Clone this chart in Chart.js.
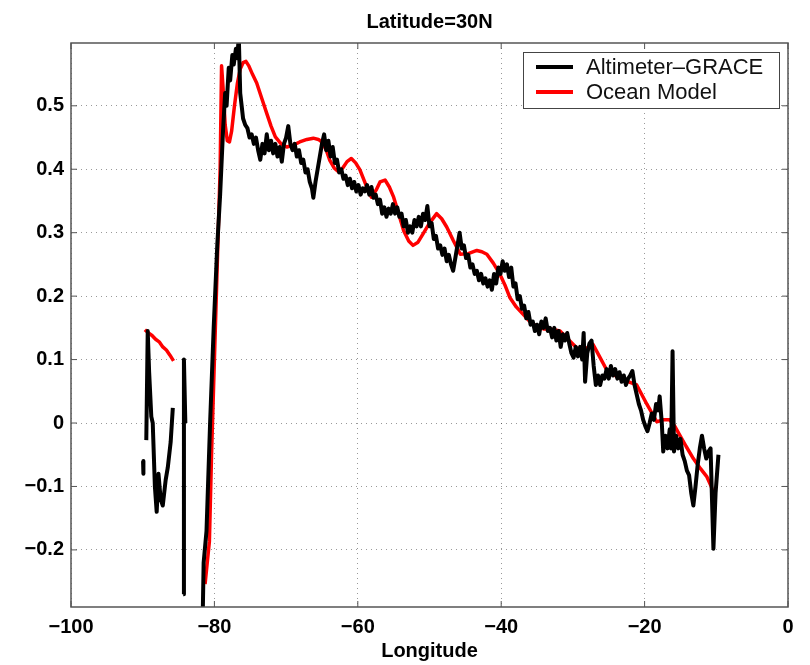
<!DOCTYPE html>
<html><head><meta charset="utf-8">
<script src="https://cdn.jsdelivr.net/npm/chart.js@4"></script>
<style>html,body{margin:0;padding:0;background:#fff}#wrap{width:810px;height:665px}</style>
</head><body><div id="wrap"><canvas id="c" width="810" height="665"></canvas></div>
<script>
const chartTitle = "Latitude=30N";
const xTitle = "Longitude";
const seriesNames = ["Altimeter–GRACE", "Ocean Model"];
const xTicks = [-100, -80, -60, -40, -20, 0];
const yTicks = [-0.2, -0.1, 0, 0.1, 0.2, 0.3, 0.4, 0.5];

const altLon = [-89.95,-89.9,-89.7,
-89.5,-89.3,-89.1,-88.8,-88.6,-88.3,-88.05,-87.8,-87.5,-87.2,-86.8,-86.5,-86.1,-85.8,-85.0,
-84.35,-84.25,-84.05,-83.0,
-81.7,-81.5,-81.1,-80.6,-80.1,-79.6,-79.2,-78.8,-78.5,-78.3,-78.0,-77.8,-77.5,-77.3,-77.0,-76.8,-76.6,-76.4,-76.2,-76.0,
-75.7,-75.4,-75.1,-74.8,-74.5,-74.2,-73.9,-73.6,-73.3,-73.0,-72.7,-72.4,-72.1,-71.8,-71.5,-71.2,-70.9,-70.6,-70.3,-70.0,
-69.7,-69.4,-69.1,-68.8,-68.5,-68.2,-67.9,-67.6,-67.3,-67.0,-66.7,-66.4,-66.2,-65.9,-65.6,-65.3,-65.0,-64.7,-64.4,-64.1,
-63.8,-63.5,-63.2,-62.9,-62.6,-62.3,-62.0,-61.7,-61.4,-61.1,-60.8,-60.5,-60.2,-59.9,-59.6,-59.3,-59.0,-58.7,-58.4,-58.1,
-57.8,-57.5,-57.2,-56.9,-56.6,-56.3,-56.0,-55.7,-55.4,-55.1,-54.8,-54.5,-54.2,-53.9,-53.6,-53.3,-53.0,-52.7,-52.4,-52.1,
-51.8,-51.5,-51.2,-50.9,-50.6,-50.3,-50.0,-49.7,-49.4,-49.1,-48.8,-48.5,-48.2,-47.9,-47.6,-47.3,-47.0,-46.7,-46.4,-46.1,
-45.8,-45.5,-45.2,-44.9,-44.6,-44.3,-44.0,-43.7,-43.4,-43.1,-42.8,-42.5,-42.2,-41.9,-41.6,-41.3,-41.0,-40.7,-40.4,-40.1,
-39.8,-39.5,-39.2,-38.9,-38.6,-38.3,-38.0,-37.7,-37.4,-37.1,-36.8,-36.5,-36.2,-35.9,-35.6,-35.3,-35.0,-34.7,-34.4,-34.1,
-33.8,-33.5,-33.2,-32.9,-32.6,-32.3,-32.0,-31.7,-31.4,-31.1,-30.8,-30.5,-30.2,-29.9,-29.6,-29.3,-29.0,-28.7,-28.5,-28.3,
-28.0,-27.7,-27.4,-27.1,-26.8,-26.5,-26.2,-25.9,-25.6,-25.3,-25.0,-24.7,-24.4,-24.1,-23.8,-23.5,-23.2,-22.9,-22.6,-22.3,
-22.0,-21.7,-21.4,-21.1,-20.8,-20.5,-20.2,-19.9,-19.6,-19.3,-19.0,-18.7,-18.4,-18.1,-17.9,-17.6,-17.4,-17.1,-16.8,-16.5,
-16.3,-16.1,-15.9,-15.6,-15.3,-15.0,-14.7,-14.4,-14.1,-13.8,-13.5,-13.2,-12.9,-12.6,-12.3,-12.0,-11.7,-11.4,-11.1,-10.8,
-10.6,-10.4,-10.1,-9.7];
const altVal = [-0.06,-0.08,null,
-0.027,0.145,0.08,0.01,0.0,-0.1,-0.14,-0.08,-0.12,-0.13,-0.09,-0.07,-0.03,0.024,null,
-0.27,0.10,0.0,null,
-0.35,-0.22,-0.17,0.0,0.15,0.28,0.36,0.46,0.52,0.50,0.56,0.54,0.58,0.565,0.59,0.575,0.61,0.52,0.50,0.48,
0.47,0.465,0.45,0.455,0.44,0.45,0.43,0.415,0.44,0.425,0.455,0.43,0.445,0.425,0.44,0.42,0.435,0.412,0.44,0.45,
0.468,0.44,0.43,0.44,0.42,0.43,0.41,0.415,0.395,0.40,0.38,0.37,0.355,0.38,0.40,0.42,0.44,0.455,0.43,0.445,
0.42,0.435,0.41,0.415,0.395,0.40,0.385,0.39,0.375,0.385,0.37,0.38,0.365,0.375,0.36,0.37,0.365,0.375,0.36,0.372,
0.355,0.36,0.345,0.352,0.33,0.34,0.325,0.338,0.33,0.345,0.33,0.34,0.325,0.33,0.31,0.32,0.30,0.31,0.30,0.32,
0.31,0.325,0.31,0.33,0.32,0.342,0.31,0.315,0.29,0.295,0.275,0.28,0.265,0.275,0.255,0.265,0.25,0.24,0.26,0.28,
0.30,0.275,0.28,0.26,0.265,0.245,0.25,0.235,0.24,0.225,0.235,0.22,0.228,0.215,0.225,0.21,0.235,0.22,0.245,0.235,
0.255,0.24,0.25,0.23,0.245,0.215,0.22,0.195,0.2,0.18,0.185,0.165,0.175,0.155,0.16,0.145,0.155,0.14,0.16,0.15,
0.165,0.145,0.15,0.135,0.15,0.13,0.145,0.12,0.14,0.13,0.142,0.125,0.11,0.103,0.12,0.105,0.12,0.10,0.142,0.065,
0.11,0.125,0.13,0.09,0.06,0.075,0.06,0.075,0.07,0.085,0.07,0.09,0.075,0.085,0.07,0.08,0.065,0.075,0.06,0.07,
0.075,0.082,0.06,0.045,0.03,0.02,0.005,-0.005,-0.013,0.0,0.015,0.005,0.03,0.02,0.042,0.0,-0.045,-0.02,-0.04,-0.01,
-0.04,0.113,-0.045,-0.02,-0.04,-0.025,-0.05,-0.06,-0.075,-0.082,-0.11,-0.13,-0.1,-0.066,-0.04,-0.02,-0.04,-0.056,-0.045,-0.04,
-0.12,-0.198,-0.11,-0.05];

const modelLon = [-89.7,-89.2,-88.7,-88.2,-87.7,-87.2,-86.7,-86.2,-85.7,-83.5,
-81.3,-80.7,-80.4,-80.0,-79.6,-79.2,-79.0,-78.8,-78.5,-78.2,-77.9,-77.6,-77.2,-76.8,-76.4,-76.0,-75.6,-75.2,-74.7,-74.1,
-73.4,-72.7,-72.1,-71.5,-70.7,-69.9,-69.0,-68.1,-67.1,-66.2,-65.5,-65.0,-64.4,-63.9,-63.3,-62.7,-62.1,-61.5,-60.9,-60.3,
-59.7,-58.9,-58.1,-57.4,-56.9,-56.2,-55.6,-55.0,-54.3,-53.6,-52.9,-52.3,-51.6,-50.9,-50.0,-49.0,-48.3,-47.6,-46.7,-45.7,
-44.6,-43.4,-42.7,-42.0,-41.1,-40.2,-39.5,-38.8,-37.9,-37.0,-36.0,-35.0,-34.0,-33.0,-31.8,-30.5,-29.0,-28.1,-27.2,-26.3,
-25.3,-24.0,-22.5,-21.1,-19.7,-18.3,-17.4,-16.5,-15.8,-15.1,-14.2,-13.2,-12.2,-11.3,-10.7,-10.2];
const modelVal = [0.147,0.142,0.138,0.132,0.128,0.12,0.115,0.107,0.098,null,
-0.254,-0.187,-0.05,0.10,0.25,0.40,0.563,0.53,0.47,0.445,0.443,0.46,0.50,0.535,0.558,0.568,0.570,0.563,0.55,0.536,
0.512,0.488,0.468,0.451,0.44,0.435,0.438,0.443,0.447,0.449,0.447,0.443,0.43,0.414,0.402,0.396,0.402,0.412,0.417,0.41,
0.399,0.376,0.356,0.368,0.380,0.383,0.372,0.356,0.33,0.303,0.287,0.280,0.285,0.298,0.315,0.330,0.322,0.309,0.288,0.266,
0.267,0.272,0.27,0.266,0.252,0.235,0.218,0.198,0.183,0.172,0.16,0.152,0.148,0.148,0.145,0.13,0.113,0.118,0.124,0.105,
0.084,0.074,0.066,0.060,0.03,0.002,0.005,0.005,-0.005,-0.019,-0.037,-0.056,-0.072,-0.085,-0.1,-0.122];

const toPts = (xs, ys) => xs.map((x, i) => ({x: x, y: ys[i]}));
const FONT = "'Liberation Sans', Arial, Helvetica, sans-serif";
const fmt = v => { const s = (Math.round(v * 10) / 10).toString(); return s.startsWith('-') ? '\u2212' + s.slice(1) : s; };

const framePlugin = {
  id: 'frame',
  afterDraw(chart) {
    const ctx = chart.ctx, a = chart.chartArea;
    const xs = chart.scales.x, ys = chart.scales.y;
    ctx.save();
    ctx.strokeStyle = '#555'; ctx.lineWidth = 1.5; ctx.setLineDash([]);
    ctx.strokeRect(a.left, a.top, a.right - a.left, a.bottom - a.top);
    ctx.lineWidth = 1;
    const tl = 6;
    xTicks.forEach(v => { const p = xs.getPixelForValue(v);
      ctx.beginPath(); ctx.moveTo(p, a.bottom); ctx.lineTo(p, a.bottom - tl);
      ctx.moveTo(p, a.top); ctx.lineTo(p, a.top + tl); ctx.stroke(); });
    yTicks.forEach(v => { const p = ys.getPixelForValue(v);
      ctx.beginPath(); ctx.moveTo(a.left, p); ctx.lineTo(a.left + tl, p);
      ctx.moveTo(a.right, p); ctx.lineTo(a.right - tl, p); ctx.stroke(); });
    ctx.fillStyle = '#000'; ctx.font = 'bold 20px ' + FONT;
    ctx.textAlign = 'center'; ctx.textBaseline = 'middle';
    ctx.fillText(chartTitle, (a.left + a.right) / 2, 22);
    const lx = 523, ly = 52, lw = 256, lh = 56;
    ctx.fillStyle = '#fff'; ctx.fillRect(lx, ly, lw, lh);
    ctx.strokeStyle = '#444'; ctx.lineWidth = 1; ctx.strokeRect(lx + 0.5, ly + 0.5, lw, lh);
    const colors = ['#000000', '#ff0000'];
    const rows = [67, 92];
    ctx.font = '22px ' + FONT; ctx.textAlign = 'left';
    seriesNames.forEach((n, i) => {
      ctx.strokeStyle = colors[i]; ctx.lineWidth = 4;
      ctx.beginPath(); ctx.moveTo(536, rows[i]); ctx.lineTo(573, rows[i]); ctx.stroke();
      ctx.fillStyle = '#111'; ctx.fillText(n, 586, rows[i] + 1);
    });
    ctx.restore();
  }
};

const gridOpts = { drawTicks: false, color: 'rgba(0,0,0,0.4)', lineWidth: 1 };
const borderOpts = { display: false, dash: [1, 4] };

new Chart(document.getElementById('c'), {
  type: 'line',
  data: {
    datasets: [
      { label: seriesNames[0], data: toPts(altLon, altVal), borderColor: '#000', borderWidth: 4,
        pointRadius: 0, tension: 0, spanGaps: false, borderJoinStyle: 'round' },
      { label: seriesNames[1], data: toPts(modelLon, modelVal), borderColor: '#ff0000', borderWidth: 3.5,
        pointRadius: 0, tension: 0, spanGaps: false, borderJoinStyle: 'round' }
    ]
  },
  options: {
    responsive: false, animation: false,
    layout: { padding: { top: 43, right: 22, left: 0, bottom: 0 } },
    plugins: { legend: { display: false }, title: { display: false }, tooltip: { enabled: false } },
    scales: {
      x: {
        type: 'linear', min: -100, max: 0,
        afterBuildTicks: s => { s.ticks = xTicks.map(v => ({ value: v })); },
        afterFit: s => { s.height = 58; },
        border: borderOpts,
        grid: gridOpts,
        ticks: { color: '#000', font: { family: FONT, size: 20, weight: 'bold' }, padding: 8,
          maxRotation: 0, callback: v => fmt(v) },
        title: { display: true, text: xTitle, color: '#000', font: { family: FONT, size: 20, weight: 'bold' },
          padding: { top: 0, bottom: 2 } }
      },
      y: {
        type: 'linear', min: -0.29, max: 0.599,
        afterBuildTicks: s => { s.ticks = yTicks.map(v => ({ value: v })); },
        afterFit: s => { s.width = 71; },
        border: borderOpts,
        grid: gridOpts,
        ticks: { color: '#000', font: { family: FONT, size: 20, weight: 'bold' }, padding: 7,
          callback: v => fmt(v) }
      }
    }
  },
  plugins: [framePlugin]
});
</script></body></html>
